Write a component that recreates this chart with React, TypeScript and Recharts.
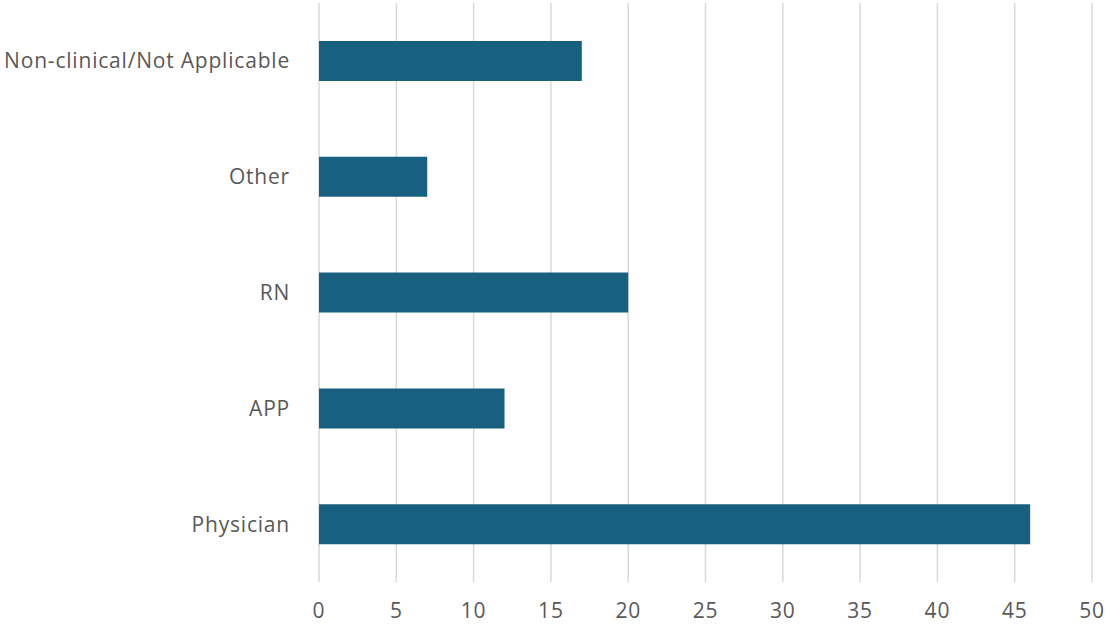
import React from "react"
import { Bar, BarChart, CartesianGrid, XAxis, YAxis } from "recharts"

const categories = ["Non-clinical/Not Applicable", "Other", "RN", "APP", "Physician"]
const counts = [17, 7, 20, 12, 46]
const xTicks = [0, 5, 10, 15, 20, 25, 30, 35, 40, 45, 50]

const data = categories.map((name, i) => ({ name, value: counts[i] }))

const textColor = "#595959"
const fontFamily = "'Open Sans', sans-serif"
const tickStyle = { fill: textColor, fontSize: 21, fontFamily, letterSpacing: 0.8 }

export default function App() {
  return (
    <div style={{ position: "absolute", left: 0, top: 0, width: 1107, height: 624, background: "#fff" }}>
      <BarChart
        width={1107}
        height={624}
        data={data}
        layout="vertical"
        margin={{ top: 3, right: 15, left: 0, bottom: 0 }}
      >
        <CartesianGrid horizontal={false} stroke="#d9d9d9" strokeWidth={1.5} />
        <XAxis
          type="number"
          domain={[0, 50]}
          ticks={xTicks}
          axisLine={false}
          tickLine={false}
          tickSize={0}
          tickMargin={21}
          height={42}
          interval={0}
          tick={tickStyle}
        />
        <YAxis
          type="category"
          dataKey="name"
          width={319}
          axisLine={false}
          tickLine={false}
          tickSize={0}
          tickMargin={29}
          interval={0}
          tick={tickStyle}
        />
        <Bar dataKey="value" fill="#17607f" barSize={40} isAnimationActive={false} />
      </BarChart>
    </div>
  )
}
